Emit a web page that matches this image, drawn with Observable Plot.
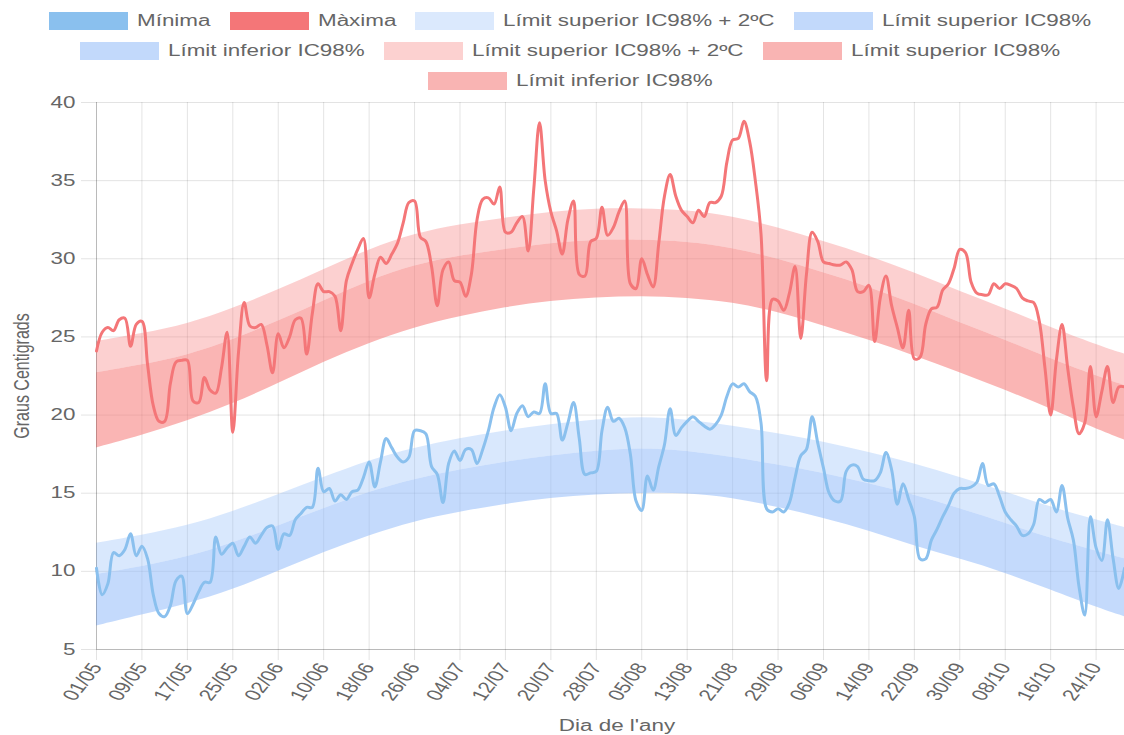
<!DOCTYPE html>
<html>
<head>
<meta charset="utf-8">
<script src="https://cdn.jsdelivr.net/npm/d3@7"></script>
<script src="https://cdn.jsdelivr.net/npm/@observablehq/plot@0.6"></script>
<style>
html, body { margin: 0; padding: 0; background: #fff; }
body { width: 1124px; height: 735px; overflow: hidden; font-family: "Liberation Sans", Arial, sans-serif; }
#legend { box-sizing: border-box; width: 1124px; height: 96px; padding: 6px 0 0 16px; display: flex; flex-wrap: wrap; justify-content: center; align-content: flex-start; }
.item { display: flex; align-items: center; height: 30px; margin: 0 9.5px; }
.box { width: 79px; height: 18px; box-sizing: border-box; }
.lab { margin-left: 9px; height: 30px; position: relative; }
.lab span { position: absolute; left: 0; top: 50%; white-space: nowrap; font-size: 16px; line-height: 16px; color: #666; transform-origin: 0 50%; transform: translateY(-50%) scaleX(1.4); }
#chart svg { display: block; }
</style>
</head>
<body>
<div id="legend"></div>
<div id="chart"></div>
<script>
// ---- Data ----
const tickLabels = ["01/05","09/05","17/05","25/05","02/06","10/06","18/06","26/06","04/07","12/07","20/07","28/07","05/08","13/08","21/08","29/08","06/09","14/09","22/09","30/09","08/10","16/10","24/10"];
const tickStep = 8;
const yTicks = [5, 10, 15, 20, 25, 30, 35, 40];

const maxima = [
  24.1, 25.3, 25.6, 25.4, 26.1, 26.2, 24.4, 25.8, 26.0, 23.2,
  20.6, 19.6, 19.6, 22.0, 23.4, 23.5, 23.5, 20.9, 20.8, 22.4,
  21.6, 21.4, 23.0, 25.3, 18.9, 24.0, 27.2, 25.7, 25.6, 25.8,
  24.5, 22.7, 25.2, 24.3, 25.0, 26.1, 26.2, 23.9, 26.5, 28.4,
  27.9, 27.9, 27.6, 25.4, 28.6, 29.7, 30.6, 31.3, 27.5, 29.0,
  30.1, 29.7, 30.3, 31.0, 32.3, 33.6, 33.7, 31.4, 31.1, 29.5,
  27.0, 29.3, 29.8, 28.6, 28.5, 27.6, 29.0, 32.5, 33.8, 33.9,
  33.5, 34.6, 31.7, 31.7, 32.3, 32.7, 30.5, 34.5, 38.7, 35.0,
  33.0, 31.8, 30.3, 32.5, 33.7, 29.0, 28.9, 31.1, 31.3, 33.3,
  31.5, 32.0, 33.0, 33.7, 28.4, 28.1, 30.0, 29.0, 28.2, 31.0,
  34.0, 35.4, 34.0, 33.1, 32.7, 32.3, 33.1, 32.7, 33.6, 33.6,
  34.0, 36.2, 37.6, 37.7, 38.8, 37.5, 35.0, 31.6, 22.2, 27.4,
  27.3, 26.7, 27.8, 29.5, 24.9, 29.0, 31.7, 31.1, 29.8, 29.7,
  29.6, 29.6, 29.8, 29.3, 27.9, 27.9, 28.3, 24.7, 27.5, 28.9,
  27.0, 25.6, 24.3, 26.7, 23.6, 23.7, 25.8, 26.8, 26.9, 28.0,
  28.4, 29.4, 30.6, 30.4, 28.5, 27.8, 27.7, 27.7, 28.4, 28.1,
  28.4, 28.3, 28.1, 27.5, 27.3, 27.2, 26.0, 23.0, 20.0, 23.5,
  25.8, 23.0, 20.5, 18.8, 19.5, 23.1, 19.9, 21.5, 23.1, 20.8,
  21.8, 21.8
];

const minima = [
  10.2, 8.5, 9.2, 11.2, 11.0, 11.4, 12.4, 11.0, 11.6, 10.8,
  8.5, 7.3, 7.1, 7.8, 9.4, 9.7, 7.3, 7.9, 8.7, 9.3,
  9.3, 12.2, 11.1, 11.5, 11.8, 11.0, 11.6, 12.2, 11.8, 12.3,
  12.8, 12.9, 11.4, 12.4, 12.3, 13.3, 13.7, 14.1, 14.1, 16.6,
  15.1, 15.3, 14.5, 14.9, 14.6, 15.1, 15.2, 16.0, 17.0, 15.4,
  17.0, 18.5, 17.9, 17.3, 17.0, 17.3, 19.0, 19.0, 18.8, 16.7,
  16.2, 14.4, 16.9, 17.7, 17.1, 17.8, 17.8, 16.9, 17.8, 19.0,
  20.5, 21.3, 20.5, 19.0, 20.1, 20.6, 19.9, 20.2, 20.1, 22.0,
  20.1, 20.1, 18.4, 19.5, 20.8, 18.5, 16.2, 16.3, 16.4, 19.0,
  20.5, 19.6, 19.8, 19.2, 17.5, 14.5, 13.9, 16.1, 15.2, 16.7,
  18.1, 20.4, 18.7, 19.2, 19.6, 19.9, 19.6, 19.3, 19.1, 19.4,
  20.0, 21.2, 22.0, 21.8, 22.0, 21.5, 21.2, 19.5, 14.0, 13.8,
  14.0, 13.8, 14.4, 16.0, 17.4, 17.8, 19.9, 18.2, 16.6, 15.0,
  14.5, 14.5, 16.4, 16.8, 16.7, 15.9, 15.8, 15.8, 16.3, 17.6,
  16.5, 14.3, 15.6, 14.6, 13.5, 10.8, 10.8, 12.0, 12.7, 13.5,
  14.2, 15.0, 15.3, 15.3, 15.4, 15.7, 16.9, 15.5, 15.6, 14.8,
  13.8, 13.3, 12.9, 12.3, 12.4, 13.0, 14.6, 14.4, 14.6, 13.8,
  15.5, 13.4, 12.0, 9.0, 7.2, 13.5, 11.5, 10.7, 13.3, 10.8,
  8.9, 10.2
];

// Confidence bands, read at every tick day and at the last day
const bandDays   = [0, 8, 16, 24, 32, 40, 48, 56, 64, 72, 80, 88, 96, 104, 112, 120, 128, 136, 144, 152, 160, 168, 176, 181];
const blueLower  = [6.5, 7.2, 7.9, 8.8, 10.0, 11.2, 12.3, 13.2, 13.8, 14.3, 14.7, 14.9, 15.0, 15.0, 14.7, 14.1, 13.4, 12.6, 11.6, 10.8, 9.9, 8.8, 7.7, 7.1];
const blueUpper  = [9.8, 10.3, 10.9, 11.8, 12.9, 14.0, 15.1, 15.9, 16.5, 17.0, 17.4, 17.7, 17.9, 17.7, 17.3, 16.8, 16.3, 15.6, 14.9, 14.0, 13.1, 12.1, 11.3, 10.8];
const blueUpper2 = [11.8, 12.3, 12.9, 13.8, 14.9, 16.0, 17.1, 17.9, 18.5, 19.0, 19.4, 19.7, 19.9, 19.7, 19.3, 18.8, 18.3, 17.6, 16.9, 16.0, 15.1, 14.1, 13.3, 12.8];
const redLower   = [17.9, 18.7, 19.6, 20.7, 22.0, 23.4, 24.6, 25.6, 26.3, 26.9, 27.3, 27.5, 27.6, 27.5, 27.2, 26.6, 25.7, 24.8, 23.8, 22.7, 21.6, 20.4, 19.1, 18.4];
const redUpper   = [22.7, 23.2, 23.8, 24.8, 26.0, 27.3, 28.6, 29.6, 30.2, 30.6, 31.0, 31.2, 31.2, 31.1, 30.7, 30.0, 29.1, 28.2, 27.1, 25.9, 24.8, 23.6, 22.5, 21.9];
const redUpper2  = [24.7, 25.2, 25.8, 26.8, 28.0, 29.3, 30.6, 31.6, 32.2, 32.6, 33.0, 33.2, 33.2, 33.1, 32.7, 32.0, 31.1, 30.2, 29.1, 27.9, 26.8, 25.6, 24.5, 23.9];

const legendLabels = ["Mínima", "Màxima", "Límit superior IC98% + 2ºC", "Límit superior IC98%", "Límit inferior IC98%", "Límit superior IC98% + 2ºC", "Límit superior IC98%", "Límit inferior IC98%"];
const legendColors = ["#8ac0ee", "#f47678", "#dbe9fd", "#c2d9fb", "#c2d9fb", "#fcd1d0", "#f9b4b3", "#f9b4b3"];

// ---- Styling constants ----
const SX = 1.4; // horizontal text stretch seen in the reference
const FONT = '"Liberation Sans", Arial, sans-serif';
const minColor = "#8ac0ee";
const maxColor = "#f47678";
const blueBase = "rgb(147,188,249)";
const redBase = "rgb(245,121,119)";

// ---- Legend ----
const legend = document.getElementById("legend");
const ctx = document.createElement("canvas").getContext("2d");
ctx.font = '16px "Liberation Sans", Arial, sans-serif';
legendLabels.forEach((lab, i) => {
  const item = document.createElement("div");
  item.className = "item";
  const box = document.createElement("div");
  box.className = "box";
  box.style.background = legendColors[i];
  box.style.border = "1px solid " + legendColors[i];
  const l = document.createElement("div");
  l.className = "lab";
  l.style.width = (ctx.measureText(lab).width * SX) + "px";
  const s = document.createElement("span");
  s.textContent = lab;
  l.appendChild(s);
  item.appendChild(box);
  item.appendChild(l);
  legend.appendChild(item);
});

// ---- Chart ----
const daily = maxima.map((v, i) => ({day: i, max: v, min: minima[i]}));
const bands = bandDays.map((d, i) => ({
  day: d,
  bLo: blueLower[i], bUp: blueUpper[i], bUp2: blueUpper2[i],
  rLo: redLower[i], rUp: redUpper[i], rUp2: redUpper2[i]
}));
const tickDays = tickLabels.map((_, i) => i * tickStep);

const plot = Plot.plot({
  width: 1124,
  height: 639,
  marginTop: 6,
  marginBottom: 86,
  marginLeft: 96,
  marginRight: 0,
  style: {fontFamily: FONT, fontSize: "16px", color: "#666", background: "#fff", overflow: "visible"},
  x: {domain: [0, 181]},
  y: {domain: [5, 40]},
  marks: [
    Plot.gridX(tickDays, {stroke: "#000", strokeOpacity: 0.11}),
    Plot.gridY(yTicks, {stroke: "#000", strokeOpacity: 0.11}),
    Plot.areaY(bands, {x: "day", y1: "bUp", y2: "bUp2", fill: blueBase, fillOpacity: 0.35, curve: "basis"}),
    Plot.areaY(bands, {x: "day", y1: "bLo", y2: "bUp", fill: blueBase, fillOpacity: 0.55, curve: "basis"}),
    Plot.areaY(bands, {x: "day", y1: "rUp", y2: "rUp2", fill: redBase, fillOpacity: 0.35, curve: "basis"}),
    Plot.areaY(bands, {x: "day", y1: "rLo", y2: "rUp", fill: redBase, fillOpacity: 0.55, curve: "basis"}),
    Plot.ruleX([0], {stroke: "#000", strokeOpacity: 0.18}),
    Plot.ruleY([5], {stroke: "#000", strokeOpacity: 0.18}),
    Plot.lineY(daily, {x: "day", y: "min", stroke: minColor, strokeWidth: 3, curve: "catmull-rom"}),
    Plot.lineY(daily, {x: "day", y: "max", stroke: maxColor, strokeWidth: 3, curve: "catmull-rom"}),
    Plot.axisY(yTicks, {tickSize: 15, tickPadding: 6, stroke: "#000", strokeOpacity: 0.11, fill: "#666", label: null}),
    Plot.axisX(tickDays, {
      tickSize: 11, tickPadding: 4, tickRotate: -60, textAnchor: "end",
      tickFormat: d => tickLabels[Math.round(d / tickStep)],
      stroke: "#000", strokeOpacity: 0.11, fill: "#666", label: null
    })
  ]
});

// stretch tick labels horizontally, like the reference
function stretchText(node) {
  const t = node.getAttribute("transform");
  if (t && t.includes("rotate(")) {
    node.setAttribute("transform", t.replace("rotate(", `scale(${SX},1) rotate(`));
  } else {
    const xa = node.getAttribute("x"), ya = node.getAttribute("y");
    let tx = 0, ty = 0;
    if (xa !== null && !isNaN(+xa)) { tx = +xa; node.removeAttribute("x"); }
    if (ya !== null && !isNaN(+ya)) { ty = +ya; node.removeAttribute("y"); }
    node.setAttribute("transform", (t ? t + " " : "") + `translate(${tx},${ty}) scale(${SX},1)`);
  }
}
plot.querySelectorAll('g[aria-label="y-axis tick label"] text, g[aria-label="x-axis tick label"] text').forEach(stretchText);

const svg = d3.select(plot);
svg.append("text")
  .attr("transform", `translate(617,635) scale(${SX},1)`)
  .attr("text-anchor", "middle")
  .attr("fill", "#666")
  .style("font-size", "16px")
  .style("font-family", FONT)
  .text("Dia de l'any");
svg.append("text")
  .attr("transform", `translate(29,280) scale(${SX},1) rotate(-90)`)
  .attr("text-anchor", "middle")
  .attr("fill", "#666")
  .style("font-size", "16px")
  .style("font-family", FONT)
  .text("Graus Centigrads");

document.getElementById("chart").appendChild(plot);
</script>
</body>
</html>
